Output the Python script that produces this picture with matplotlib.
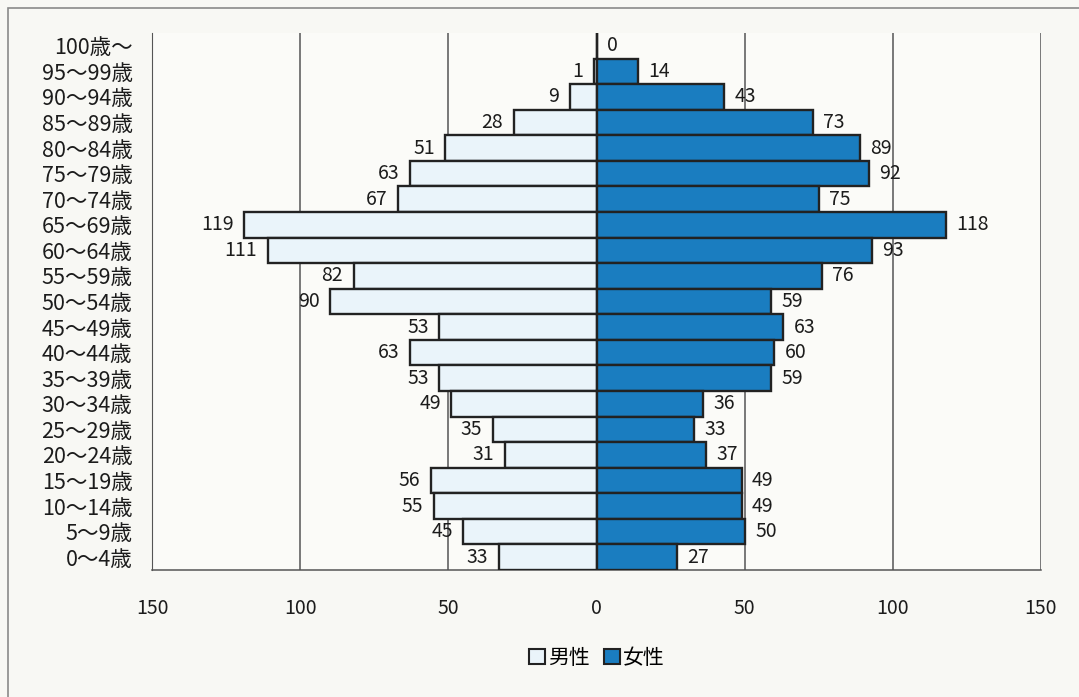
import matplotlib
matplotlib.use("Agg")
import matplotlib.pyplot as plt
from matplotlib.patches import Rectangle, Patch

plt.rcParams['font.family'] = ['Noto Sans CJK JP', 'DejaVu Sans']

age_groups = ["100歳～", "95～99歳", "90～94歳", "85～89歳", "80～84歳", "75～79歳",
              "70～74歳", "65～69歳", "60～64歳", "55～59歳", "50～54歳", "45～49歳",
              "40～44歳", "35～39歳", "30～34歳", "25～29歳", "20～24歳", "15～19歳",
              "10～14歳", "5～9歳", "0～4歳"]
male = [0, 1, 9, 28, 51, 63, 67, 119, 111, 82, 90, 53, 63, 53, 49, 35, 31, 56, 55, 45, 33]
female = [0, 14, 43, 73, 89, 92, 75, 118, 93, 76, 59, 63, 60, 59, 36, 33, 37, 49, 49, 50, 27]
x_ticks = [-150, -100, -50, 0, 50, 100, 150]
x_tick_labels = ["150", "100", "50", "0", "50", "100", "150"]

W, H = 1079, 697
fig = plt.figure(figsize=(W / 100, H / 100), dpi=100)
fig.patch.set_facecolor("#f8f8f4")

# outer chart frame
fig.add_artist(Rectangle((8 / W, -0.05), 1.1, 1 - 8 / H + 0.05, transform=fig.transFigure,
                         fill=False, edgecolor="#8a8a8a", linewidth=1.2))

ax = fig.add_axes([152 / W, 1 - 570 / H, (1041 - 152) / W, (570 - 33) / H])
ax.set_facecolor("#fbfbf8")

y = list(range(len(age_groups)))
male_color = "#eaf4fa"
female_color = "#1a7dc0"
edge = "#222222"
text_color = "#1c1c1c"

ax.barh(y, [-v for v in male], height=1.0, color=male_color, edgecolor=edge, linewidth=1.7, zorder=3)
ax.barh(y, female, height=1.0, color=female_color, edgecolor=edge, linewidth=1.7, zorder=3)

for yi, v in zip(y, male):
    if v > 0:
        ax.text(-v - 3.5, yi, str(v), ha="right", va="center", fontsize=14, color=text_color, zorder=4)
for yi, v in zip(y, female):
    ax.text(v + 3.5, yi, str(v), ha="left", va="center", fontsize=14, color=text_color, zorder=4)

ax.set_xlim(-150, 150)
ax.set_ylim(len(age_groups) - 0.5, -0.5)
ax.set_xticks(x_ticks)
ax.set_xticklabels(x_tick_labels, fontsize=14, color=text_color)
ax.set_yticks(y)
ax.set_yticklabels(age_groups, fontsize=15.5, color=text_color)
ax.tick_params(axis="both", length=0)
ax.tick_params(axis="x", pad=20)
ax.tick_params(axis="y", pad=14)

for xv in x_ticks:
    ax.axvline(xv, color="#555555", linewidth=1.1, zorder=1)
for s in ["top", "right"]:
    ax.spines[s].set_visible(False)
ax.spines["left"].set_color("#555555")
ax.spines["bottom"].set_color("#555555")
ax.spines["bottom"].set_linewidth(1.1)

handles = [Patch(facecolor=male_color, edgecolor=edge, linewidth=1.5, label="男性"),
           Patch(facecolor=female_color, edgecolor=edge, linewidth=1.5, label="女性")]
fig.legend(handles=handles, loc="center", bbox_to_anchor=(597 / W, 1 - 658 / H), ncol=2,
           frameon=False, fontsize=15, handlelength=0.75, handleheight=0.75,
           handletextpad=0.15, columnspacing=0.7)

fig.savefig("out.png", dpi=100, facecolor=fig.get_facecolor())
